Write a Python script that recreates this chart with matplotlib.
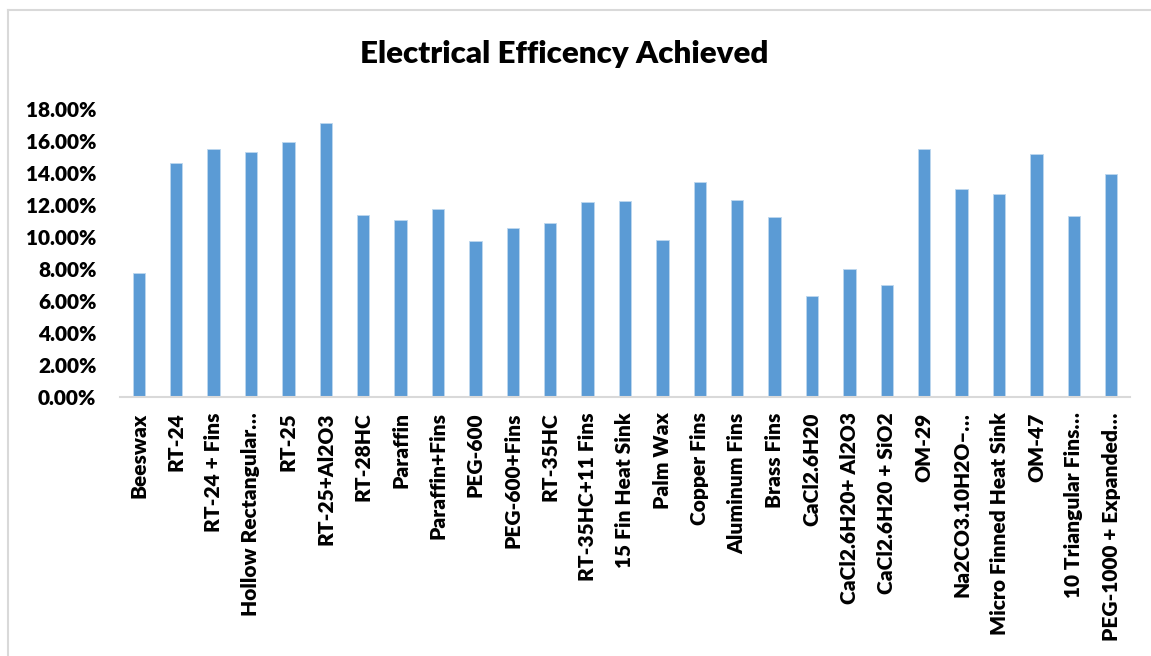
import numpy as np
import matplotlib
matplotlib.use("Agg")
import matplotlib.pyplot as plt
from matplotlib.ticker import FuncFormatter
from matplotlib.lines import Line2D

plt.rcParams['font.family'] = ['Lato', 'DejaVu Sans']

materials = [
    "Beeswax", "RT-24", "RT-24 + Fins", "Hollow Rectangular…", "RT-25",
    "RT-25+Al2O3", "RT-28HC", "Paraffin", "Paraffin+Fins", "PEG-600",
    "PEG-600+Fins", "RT-35HC", "RT-35HC+11 Fins", "15 Fin Heat Sink",
    "Palm Wax", "Copper Fins", "Aluminum Fins", "Brass Fins", "CaCl2.6H20",
    "CaCl2.6H20+ Al2O3", "CaCl2.6H20 + SiO2", "OM-29", "Na2CO3.10H2O–…",
    "Micro Finned Heat Sink", "OM-47", "10 Triangular Fins…",
    "PEG-1000 + Expanded…",
]
efficiency = [
    7.78, 14.62, 15.52, 15.33, 15.96,
    17.13, 11.39, 11.10, 11.74, 9.76,
    10.60, 10.89, 12.18, 12.24,
    9.80, 13.47, 12.31, 11.24, 6.34,
    7.99, 6.99, 15.50, 13.00,
    12.70, 15.23, 11.31,
    13.93,
]

fig = plt.figure(figsize=(11.51, 6.56), dpi=100)
ax = fig.add_axes([0.1043, 0.3948, 0.8774, 0.4384])

x = np.arange(len(materials))
ax.bar(x, efficiency, width=0.33, color="#5B9BD5", edgecolor="#BDD7EE", linewidth=0.6)

ax.set_xlim(-0.5, len(materials) - 0.5)
ax.set_ylim(0, 18)
ax.set_yticks(np.arange(0, 18.01, 2))
ax.yaxis.set_major_formatter(FuncFormatter(lambda v, p: f"{v:.2f}%"))
ax.set_xticks(x)
ax.set_xticklabels(materials, rotation=90)

for s in ["top", "right", "left"]:
    ax.spines[s].set_visible(False)
ax.spines["bottom"].set_color("#D9D9D9")
ax.spines["bottom"].set_linewidth(1.5)
ax.tick_params(axis="both", length=0, labelsize=15)
ax.tick_params(axis="y", pad=17)
ax.tick_params(axis="x", pad=11)
for lbl in ax.get_xticklabels() + ax.get_yticklabels():
    lbl.set_fontweight("heavy")

fig.text(0.49, 0.918, "Electrical Efficency Achieved", ha="center", va="center",
         fontsize=22.5, fontweight="heavy")

# chart frame
W, H = 1151, 656
fig.add_artist(Line2D([8 / W, 8 / W], [0, 1 - 10 / H], color="#D9D9D9", lw=1.5))
fig.add_artist(Line2D([8 / W, 1], [1 - 10 / H, 1 - 10 / H], color="#D9D9D9", lw=1.5))

fig.savefig("out.png", dpi=100)
